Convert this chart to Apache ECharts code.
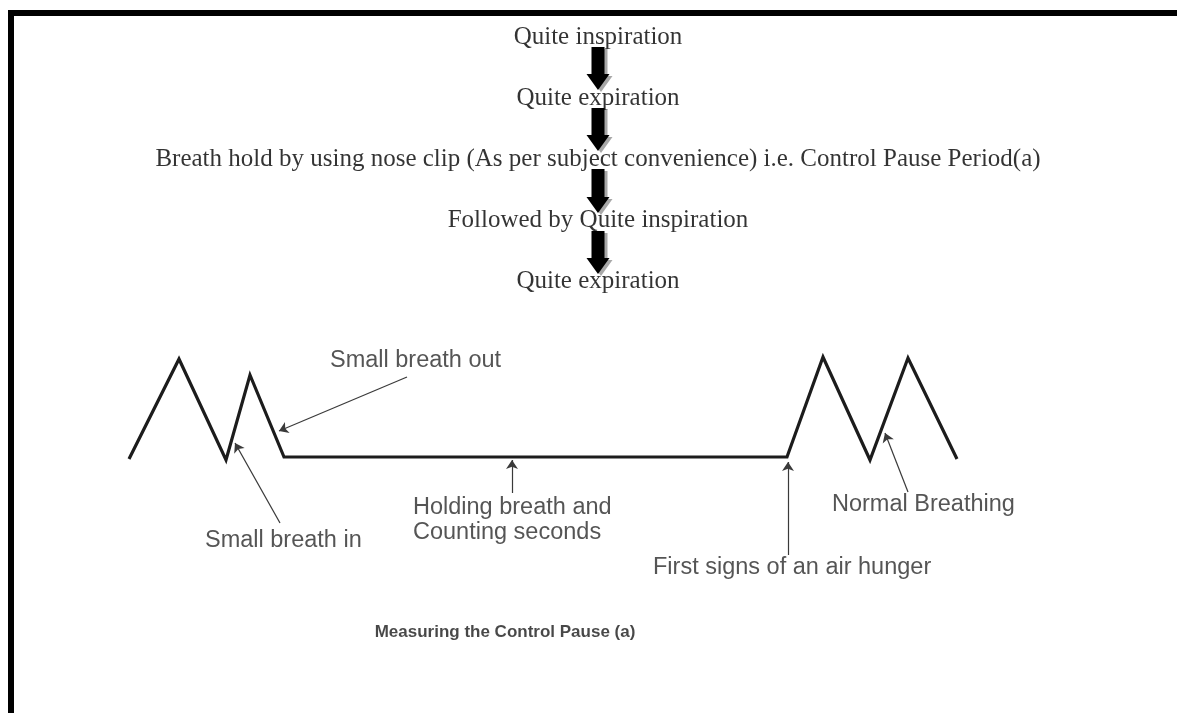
<!DOCTYPE html>
<html>
<head>
<meta charset="utf-8">
<script src="https://cdn.jsdelivr.net/npm/echarts@6/dist/echarts.min.js"></script>
<style>
  html, body { margin: 0; padding: 0; background: #fff; }
  #main { width: 1177px; height: 713px; }
</style>
</head>
<body>
<div id="main"></div>
<script>
  // flow chart steps, top to bottom
  const flowSteps = [
    'Quite inspiration',
    'Quite expiration',
    'Breath hold by using nose clip (As per subject convenience) i.e. Control Pause Period(a)',
    'Followed by Quite inspiration',
    'Quite expiration'
  ]
  const flowRows = [37, 98, 159, 220, 281]
  const flowArrows = [[598, 47, 90], [598, 108, 151], [598, 169, 213], [598, 231, 274]]

  // breathing trace: [time, level]
  const breathTrace = [
    [129, 459], [179, 359], [226, 460], [250, 375], [284, 457],
    [787, 457], [823, 357], [870, 460], [908, 358], [957, 459]
  ]

  // callouts: text, anchor, arrow tail, arrow head
  const callouts = [
    ['Small breath out', [330, 361], [407, 377], [279, 431]],
    ['Small breath in', [205, 541], [280, 523], [235, 443]],
    ['Holding breath and\nCounting seconds', [413, 520], [512, 493], [512, 460]],
    ['First signs of an air hunger', [653, 568], [788, 555], [788, 462]],
    ['Normal Breathing', [832, 505], [908, 492], [885, 433]]
  ]
  const caption = 'Measuring the Control Pause (a)'

  let myechart = echarts.init(document.getElementById('main'))

  let option = {
    animation: false,
    backgroundColor: '#fff',
    grid: { left: 0, right: 0, top: 0, bottom: 0 },
    xAxis: { type: 'value', min: 0, max: 1177, show: false },
    yAxis: { type: 'value', min: 0, max: 713, inverse: true, show: false },
    graphic: [
      { type: 'rect', shape: { x: 8, y: 10, width: 1169, height: 6 }, style: { fill: '#000' } },
      { type: 'rect', shape: { x: 8, y: 10, width: 6, height: 703 }, style: { fill: '#000' } }
    ],
    series: [
      {
        type: 'scatter',
        symbolSize: 0,
        data: flowSteps.map((t, i) => ({ name: t, value: [598, flowRows[i]] })),
        label: {
          show: true,
          position: 'inside',
          formatter: '{b}',
          fontFamily: 'Liberation Serif',
          fontSize: 25,
          color: '#000'
        },
        z: 3
      },
      {
        type: 'custom',
        data: flowArrows,
        renderItem: function (params, api) {
          const top = api.coord([api.value(0), api.value(1)])
          const bot = api.coord([api.value(0), api.value(2)])
          const cx = top[0], sw = 6.5, hw = 11.5, hl = 16
          const pts = [
            [cx - sw, top[1]], [cx + sw, top[1]], [cx + sw, bot[1] - hl],
            [cx + hw, bot[1] - hl], [cx, bot[1]], [cx - hw, bot[1] - hl], [cx - sw, bot[1] - hl]
          ]
          const shadow = pts.map(p => [p[0] + 3, p[1] + 2])
          return {
            type: 'group',
            children: [
              { type: 'polygon', shape: { points: shadow }, style: { fill: '#a8a8a8' } },
              { type: 'polygon', shape: { points: pts }, style: { fill: '#000' } }
            ]
          }
        },
        z: 4
      },
      {
        type: 'line',
        data: breathTrace,
        symbol: 'none',
        lineStyle: { color: '#1c1c1c', width: 3.2, join: 'miter' }
      },
      {
        type: 'lines',
        coordinateSystem: 'cartesian2d',
        data: callouts.map(c => ({ coords: [c[2], c[3]] })),
        symbol: ['none', 'arrow'],
        symbolSize: [0, 9],
        lineStyle: { color: '#3a3a3a', width: 1.2, opacity: 1 }
      },
      {
        type: 'scatter',
        symbolSize: 0,
        data: callouts.map(c => ({ name: c[0], value: c[1] })),
        label: {
          show: true,
          position: 'inside',
          align: 'left',
          formatter: '{b}',
          fontFamily: 'Liberation Sans',
          fontSize: 23.5,
          lineHeight: 25,
          color: '#2a2a2a'
        }
      },
      {
        type: 'scatter',
        symbolSize: 0,
        data: [{ name: caption, value: [505, 632] }],
        label: {
          show: true,
          position: 'inside',
          formatter: '{b}',
          fontFamily: 'Liberation Sans',
          fontWeight: 'bold',
          fontSize: 17,
          color: '#1a1a1a'
        }
      }
    ]
  }
  myechart.setOption(option)
</script>
</body>
</html>
